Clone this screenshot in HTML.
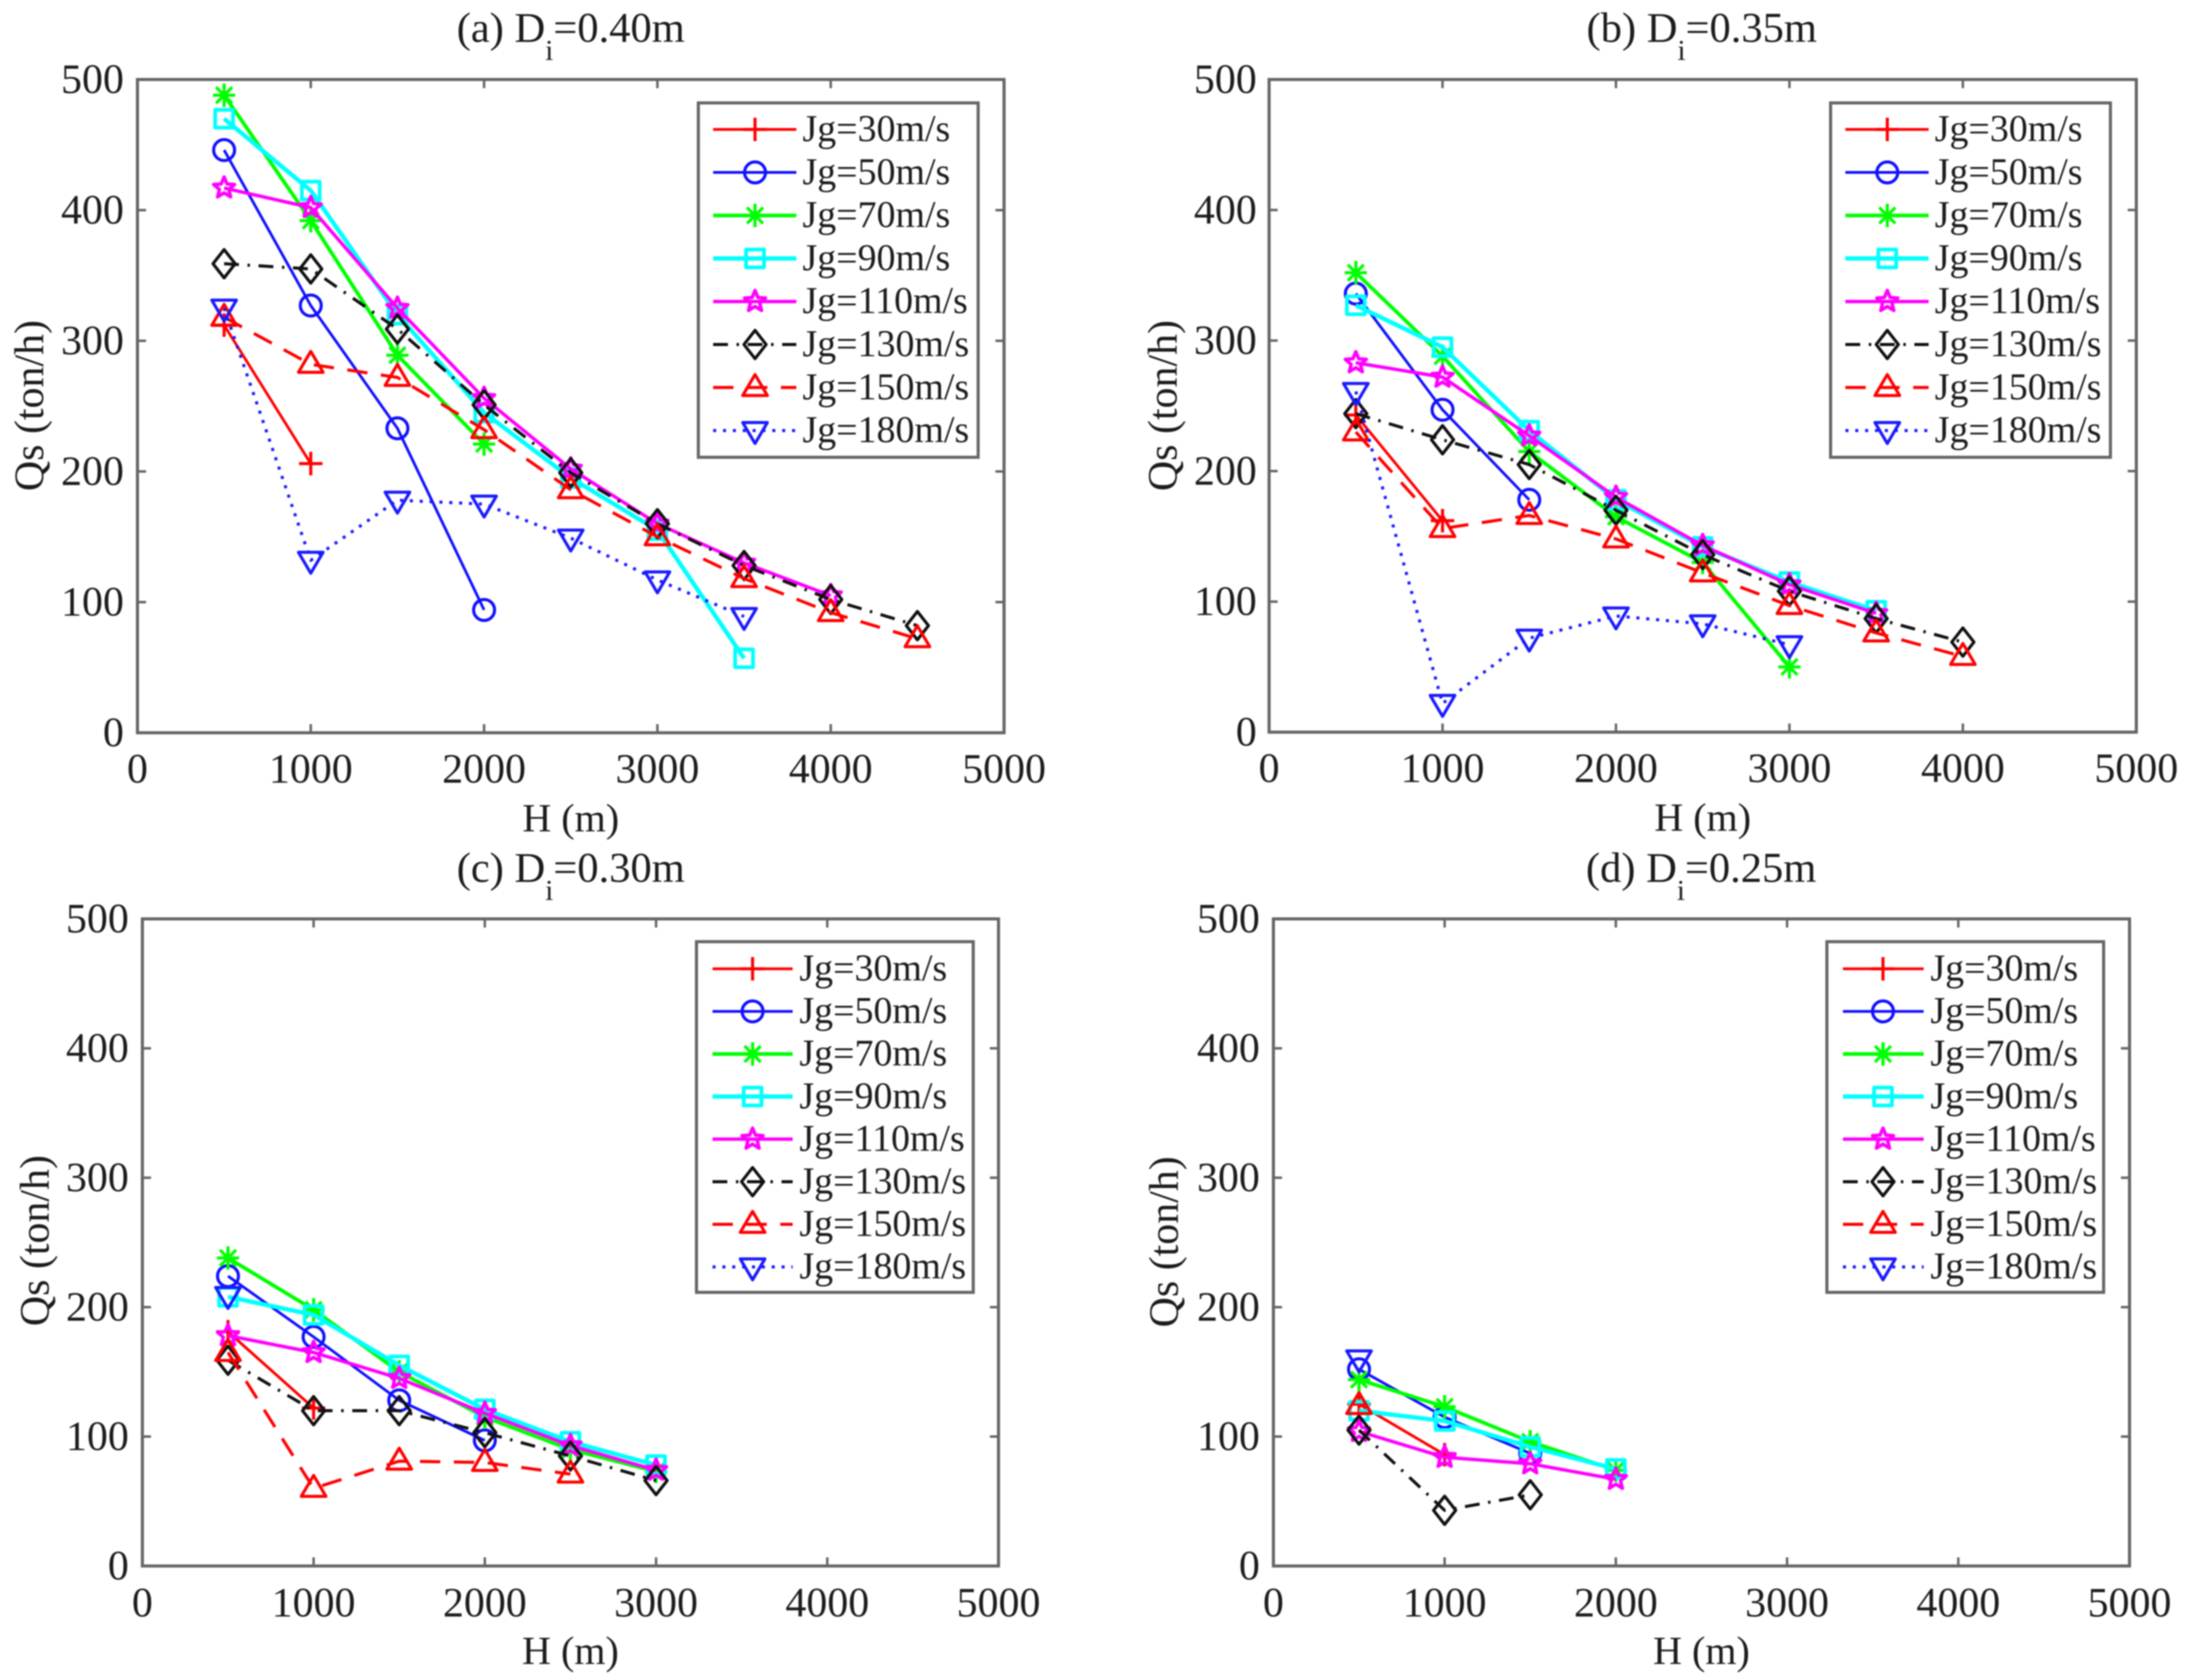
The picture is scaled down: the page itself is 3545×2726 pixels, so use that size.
<!DOCTYPE html>
<html lang="en">
<head>
<meta charset="utf-8">
<title>Qs versus H for four pipe diameters</title>
<style>
html,body{margin:0;padding:0;background:#fff;}
body{width:3545px;height:2726px;overflow:hidden;}
svg{display:block;filter:blur(1.1px);}
text{font-family:"Liberation Serif","Times New Roman",serif;fill:#1c1c1c;}
</style>
</head>
<body>
<svg id="figure" xmlns="http://www.w3.org/2000/svg" width="3545" height="2726" viewBox="0 0 3545 2726"></svg>
<script>
// ---- shared axis data ----
const heights = [500, 1000, 1500, 2000, 2500, 3000, 3500, 4000, 4500];
const xTicks = [0, 1000, 2000, 3000, 4000, 5000];
const yTicks = [0, 100, 200, 300, 400, 500];
const seriesLabels = ['Jg=30m/s', 'Jg=50m/s', 'Jg=70m/s', 'Jg=90m/s', 'Jg=110m/s', 'Jg=130m/s', 'Jg=150m/s', 'Jg=180m/s'];

// ---- panel (a) Di=0.40m : Qs values at successive heights ----
const a30 = [312, 206];
const a50 = [446, 327, 233, 94];
const a70 = [488, 392, 289, 221];
const a90 = [470, 415, 320, 245, 195, 155, 57];
const a110 = [417, 402, 325, 256, 202, 160, 130, 105];
const a130 = [359, 355, 309, 251, 199, 160, 128, 102, 82];
const a150 = [318, 282, 272, 232, 186, 150, 118, 92, 72];
const a180 = [325, 132, 178, 175, 149, 117, 89];

// ---- panel (b) Di=0.35m ----
const b30 = [243, 162];
const b50 = [336, 247, 178];
const b70 = [352, 288, 215, 165, 130, 50];
const b90 = [327, 295, 231, 178, 142, 115, 93];
const b110 = [283, 272, 227, 180, 143, 113, 91];
const b130 = [244, 224, 205, 170, 136, 108, 87, 69];
const b150 = [230, 156, 166, 148, 122, 97, 76, 58];
const b180 = [261, 22, 72, 89, 83, 67];

// ---- panel (c) Di=0.30m ----
const c30 = [181, 122];
const c50 = [224, 177, 128, 97];
const c70 = [238, 198, 150, 115, 90, 73];
const c90 = [208, 194, 155, 121, 96, 78];
const c110 = [178, 165, 145, 118, 93, 74];
const c130 = [159, 120, 120, 103, 85, 66];
const c150 = [165, 60, 81, 80, 71];
const c180 = [209];

// ---- panel (d) Di=0.25m ----
const d30 = [125, 86];
const d50 = [152, 115, 87];
const d70 = [144, 123, 96, 74];
const d90 = [120, 112, 92, 75];
const d110 = [104, 84, 79, 67];
const d130 = [105, 43, 55];
const d150 = [124];
const d180 = [160];

const NS = 'http://www.w3.org/2000/svg';
const svg = document.getElementById('figure');

const styles = [
  {color: '#ff0000', width: 4.5, dash: '', marker: 'plus'},
  {color: '#1010ff', width: 4.5, dash: '', marker: 'circle'},
  {color: '#00ff00', width: 6, dash: '', marker: 'asterisk'},
  {color: '#00ffff', width: 7, dash: '', marker: 'square'},
  {color: '#ff00ff', width: 5.5, dash: '', marker: 'star'},
  {color: '#111111', width: 5, dash: '24 14 4 14', marker: 'diamond'},
  {color: '#ff0000', width: 5, dash: '33 22', marker: 'triangle'},
  {color: '#1a1aff', width: 5, dash: '5 11', marker: 'triangleDown'}
];

const panels = [
  {key: 'a', prefix: '(a) D', suffix: '=0.40m', series: [a30, a50, a70, a90, a110, a130, a150, a180],
   left: 223, right: 1629, top: 129, bottom: 1189, titleX: 926, titleY: 68, yLabelX: 70, yLabelY: 658, tickGap: 22, xTickDy: 81, xLabelDy: 160,
   legend: {x: 1133, y: 167, w: 454, h: 575, x1: 1157, x2: 1292, mx: 1225, tx: 1302, row0: 210, step: 69.8}},
  {key: 'b', prefix: '(b) D', suffix: '=0.35m', series: [b30, b50, b70, b90, b110, b130, b150, b180],
   left: 2059, right: 3466, top: 129, bottom: 1188, titleX: 2761, titleY: 68, yLabelX: 1909, yLabelY: 658, tickGap: 20, xTickDy: 81, xLabelDy: 160,
   legend: {x: 2970, y: 167, w: 454, h: 575, x1: 2994, x2: 3129, mx: 3062, tx: 3139, row0: 210, step: 69.8}},
  {key: 'c', prefix: '(c) D', suffix: '=0.30m', series: [c30, c50, c70, c90, c110, c130, c150, c180],
   left: 231, right: 1620, top: 1491, bottom: 2541, titleX: 926, titleY: 1431, yLabelX: 79, yLabelY: 2013, tickGap: 22, xTickDy: 82, xLabelDy: 159,
   legend: {x: 1130, y: 1528, w: 449, h: 569, x1: 1156, x2: 1286, mx: 1221, tx: 1297, row0: 1572, step: 69.1}},
  {key: 'd', prefix: '(d) D', suffix: '=0.25m', series: [d30, d50, d70, d90, d110, d130, d150, d180],
   left: 2066, right: 3455, top: 1491, bottom: 2541, titleX: 2760, titleY: 1431, yLabelX: 1911, yLabelY: 2015, tickGap: 22, xTickDy: 82, xLabelDy: 159,
   legend: {x: 2964, y: 1528, w: 449, h: 569, x1: 2990, x2: 3121, mx: 3055, tx: 3132, row0: 1572, step: 69.1}}
];

function make(tag, attrs, parent) {
  const el = document.createElementNS(NS, tag);
  Object.keys(attrs).forEach(function (k) { el.setAttribute(k, attrs[k]); });
  parent.appendChild(el);
  return el;
}

function starPoints(cx, cy, ro, ri) {
  const pts = [];
  for (let i = 0; i < 10; i++) {
    const r = i % 2 === 0 ? ro : ri;
    const a = -Math.PI / 2 + i * Math.PI / 5;
    pts.push((cx + r * Math.cos(a)).toFixed(1) + ',' + (cy + r * Math.sin(a)).toFixed(1));
  }
  return 'M' + pts.join('L') + 'Z';
}

function markerPath(kind, x, y) {
  switch (kind) {
    case 'plus':
      return 'M' + (x - 19) + ' ' + y + 'H' + (x + 19) + 'M' + x + ' ' + (y - 19) + 'V' + (y + 19);
    case 'asterisk':
      return 'M' + (x - 18) + ' ' + y + 'H' + (x + 18) + 'M' + x + ' ' + (y - 19) + 'V' + (y + 19) +
        'M' + (x - 13) + ' ' + (y - 13) + 'L' + (x + 13) + ' ' + (y + 13) +
        'M' + (x - 13) + ' ' + (y + 13) + 'L' + (x + 13) + ' ' + (y - 13);
    case 'square':
      return 'M' + (x - 14.5) + ' ' + (y - 14.5) + 'H' + (x + 14.5) + 'V' + (y + 14.5) + 'H' + (x - 14.5) + 'Z';
    case 'star':
      return starPoints(x, y, 18, 8);
    case 'diamond':
      return 'M' + x + ' ' + (y - 23) + 'L' + (x + 18) + ' ' + y + 'L' + x + ' ' + (y + 23) + 'L' + (x - 18) + ' ' + y + 'Z';
    case 'triangle':
      return 'M' + x + ' ' + (y - 21) + 'L' + (x + 20) + ' ' + (y + 13) + 'H' + (x - 20) + 'Z';
    case 'triangleDown':
      return 'M' + x + ' ' + (y + 21) + 'L' + (x + 20) + ' ' + (y - 13) + 'H' + (x - 20) + 'Z';
    default:
      return '';
  }
}

function drawMarker(style, x, y, parent) {
  if (style.marker === 'circle') {
    const c = make('circle', {cx: x, cy: y, r: 17, fill: 'none', stroke: style.color, 'stroke-width': 5}, parent);
    
    
    return;
  }
  const w = style.marker === 'square' ? 6 : style.marker === 'star' ? 5.5 : 5;
  const p = make('path', {d: markerPath(style.marker, x, y), fill: 'none', stroke: style.color, 'stroke-width': w, 'stroke-linejoin': 'round'}, parent);
  
  
}

function drawText(content, attrs, parent) {
  const t = make('text', attrs, parent);
  t.textContent = content;
  return t;
}

panels.forEach(function (panel) {
  const xScale = function (v) { return panel.left + (panel.right - panel.left) * v / 5000; };
  const yScale = function (v) { return panel.bottom - (panel.bottom - panel.top) * v / 500; };

  const group = make('g', {}, svg);
  
  

  // title with subscript i
  const title = drawText('', {x: panel.titleX, y: panel.titleY, 'text-anchor': 'middle', 'font-size': 69}, group);
  
  
  const tA = make('tspan', {}, title);
  tA.textContent = panel.prefix;
  const tB = make('tspan', {dy: 29, 'font-size': 47}, title);
  tB.textContent = 'i';
  const tC = make('tspan', {dy: -29}, title);
  tC.textContent = panel.suffix;

  // plot frame
  const frame = make('rect', {x: panel.left, y: panel.top, width: panel.right - panel.left, height: panel.bottom - panel.top, fill: '#fff', stroke: '#666', 'stroke-width': 5}, group);
  
  

  // ticks and tick labels
  xTicks.forEach(function (v) {
    const x = xScale(v);
    const tick = make('path', {d: 'M' + x + ' ' + panel.bottom + 'v-14M' + x + ' ' + panel.top + 'v14', stroke: '#666', 'stroke-width': 4, fill: 'none'}, group);
    
    
    const label = drawText(String(v), {x: x, y: panel.bottom + panel.xTickDy, 'text-anchor': 'middle', 'font-size': 68}, group);
    
    
  });
  yTicks.forEach(function (v) {
    const y = yScale(v);
    const tick = make('path', {d: 'M' + panel.left + ' ' + y + 'h14M' + panel.right + ' ' + y + 'h-14', stroke: '#666', 'stroke-width': 4, fill: 'none'}, group);
    
    
    const label = drawText(String(v), {x: panel.left - panel.tickGap, y: y + 22, 'text-anchor': 'end', 'font-size': 68}, group);
    
    
  });

  // axis titles
  const xTitle = drawText('H (m)', {x: (panel.left + panel.right) / 2, y: panel.bottom + panel.xLabelDy, 'text-anchor': 'middle', 'font-size': 65}, group);
  
  
  const yTitle = drawText('Qs (ton/h)', {x: panel.yLabelX, y: panel.yLabelY, 'text-anchor': 'middle', 'font-size': 68, transform: 'rotate(-90 ' + panel.yLabelX + ' ' + panel.yLabelY + ')'}, group);
  
  

  // series lines + markers
  panel.series.forEach(function (values, si) {
    const style = styles[si];
    const seriesGroup = make('g', {}, group);
    
    
    const pts = values.map(function (q, i) { return xScale(heights[i]).toFixed(1) + ',' + yScale(q).toFixed(1); });
    const line = make('polyline', {points: pts.join(' '), fill: 'none', stroke: style.color, 'stroke-width': style.width, 'stroke-dasharray': style.dash || 'none', 'stroke-linejoin': 'round'}, seriesGroup);
    
    
    values.forEach(function (q, i) {
      drawMarker(style, xScale(heights[i]), yScale(q), seriesGroup);
    });
  });

  // legend
  const lg = panel.legend;
  const legendGroup = make('g', {}, group);
  
  
  const box = make('rect', {x: lg.x, y: lg.y, width: lg.w, height: lg.h, fill: '#fff', stroke: '#666', 'stroke-width': 5}, legendGroup);
  
  
  seriesLabels.forEach(function (name, si) {
    const style = styles[si];
    const y = lg.row0 + lg.step * si;
    const entry = make('g', {}, legendGroup);
    
    
    const sample = make('line', {x1: lg.x1, x2: lg.x2, y1: y, y2: y, stroke: style.color, 'stroke-width': style.width, 'stroke-dasharray': style.dash || 'none'}, entry);
    
    
    drawMarker(style, lg.mx, y, entry);
    const label = drawText(name, {x: lg.tx, y: y + 19, 'font-size': 61.5}, entry);
    
    
  });
});
</script>
</body>
</html>
